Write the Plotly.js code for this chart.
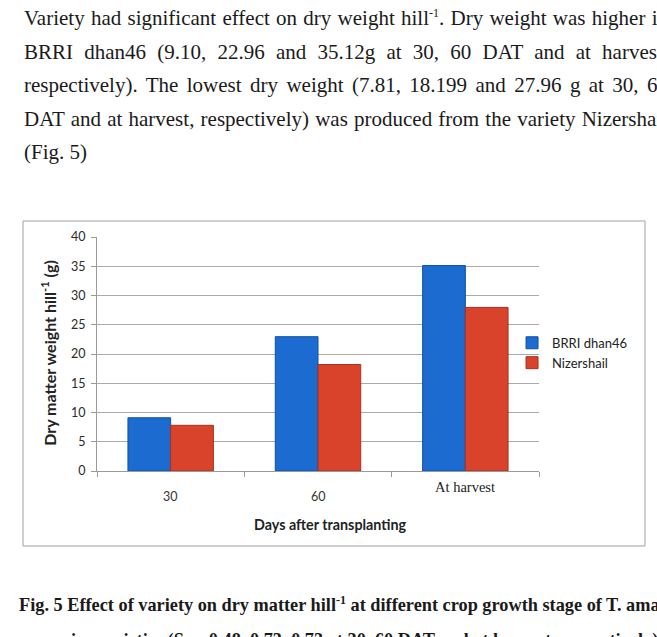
<!DOCTYPE html>
<html>
<head>
<meta charset="utf-8">
<script src="https://cdn.plot.ly/plotly-3.0.1.min.js"></script>
<style>
  html, body { margin:0; padding:0; width:657px; height:637px; overflow:hidden; background:#fff; }
  #chart { position:absolute; left:0; top:0; width:657px; height:637px; }
  .ln { position:absolute; left:24px; width:644px; white-space:nowrap; font-family:"Liberation Serif", "Times New Roman", serif;
        font-size:21px; line-height:33.5px; height:33.5px; color:#1a1a1a; text-align:justify; text-align-last:justify; }
  .ln.last { text-align:left; text-align-last:left; }
  .ln sup, .cap sup { font-size:12px; line-height:0; }
  .cap { position:absolute; white-space:nowrap; font-family:"Liberation Serif", "Times New Roman", serif;
         font-size:18.3px; font-weight:bold; color:#1a1a1a; line-height:22px; }
  .cap sub { font-size:11px; line-height:0; }
</style>
</head>
<body>
<div id="chart"></div>
<div class="ln" style="top:2px;">Variety had significant effect on dry weight hill<sup>-1</sup>. Dry weight was higher in</div>
<div class="ln" style="top:35.5px;">BRRI dhan46 (9.10, 22.96 and 35.12g at 30, 60 DAT and at harvest,</div>
<div class="ln" style="top:69px;">respectively). The lowest dry weight (7.81, 18.199 and 27.96 g at 30, 60</div>
<div class="ln" style="top:102.5px;">DAT and at harvest, respectively) was produced from the variety Nizershail</div>
<div class="ln last" style="top:136px;">(Fig. 5)</div>
<div class="cap" style="left:19px; top:594px;">Fig. 5 Effect of variety on dry matter hill<sup>-1</sup> at different crop growth stage of T. aman</div>
<div class="cap" style="left:63px; top:629px;">rice varieties (S<sub>x̄</sub> = 0.48, 0.73, 0.73 at 30, 60 DAT and at harvest, respectively)</div>
<script>
const categories = ["30", "60", "At harvest"];
const brriDhan46 = [9.10, 22.96, 35.12];
const nizershail = [7.81, 18.199, 27.96];
const seriesNames = ["BRRI dhan46", "Nizershail"];
const yTicks = [0, 5, 10, 15, 20, 25, 30, 35, 40];

const chartFont = "Lato, 'Open Sans', sans-serif";

const traces = [
  { type: "bar", name: seriesNames[0], x: categories, y: brriDhan46,
    marker: { color: "#1b6bd0", line: { color: "#12509f", width: 1 } } },
  { type: "bar", name: seriesNames[1], x: categories, y: nizershail,
    marker: { color: "#d9432b", line: { color: "#a5321e", width: 1 } } }
];

const catAnn = categories.map(function (c, i) {
  const serif = c === "At harvest";
  return {
    x: i, y: 0, xref: "x", yref: "y", showarrow: false, yanchor: "middle",
    yshift: serif ? -16 : -25, text: c,
    font: serif ? { family: "'Liberation Serif', serif", size: 14.5, color: "#222" }
                : { family: chartFont, size: 12.5, color: "#333" }
  };
});

const layout = {
  width: 657, height: 637,
  margin: { l: 97, r: 118, t: 237, b: 166 },
  paper_bgcolor: "rgba(0,0,0,0)", plot_bgcolor: "#fff",
  font: { family: chartFont, size: 12, color: "#333" },
  barmode: "group", bargap: 0.42, bargroupgap: 0,
  showlegend: true,
  legend: { x: 0.939, xanchor: "left", y: 0.505, yanchor: "middle", bgcolor: "rgba(0,0,0,0)",
            font: { family: chartFont, size: 13, color: "#222" }, tracegroupgap: 0, itemwidth: 30 },
  xaxis: { type: "category", range: [-0.5, 2.5], showticklabels: false, showgrid: false, showline: true, linecolor: "#9a9a9a",
           linewidth: 1, ticks: "outside", ticklen: 5, tickcolor: "#9a9a9a", tickson: "boundaries", zeroline: false },
  yaxis: { range: [0, 40], tickvals: yTicks, showgrid: true, gridcolor: "#ababab", gridwidth: 1,
           showline: true, linecolor: "#9a9a9a", linewidth: 1, ticks: "outside", ticklen: 5, tickcolor: "#9a9a9a",
           ticklabelstandoff: 3, zeroline: false, tickfont: { family: chartFont, size: 12.5, color: "#2a2a2a" } },
  annotations: catAnn.concat([
    { xref: "paper", yref: "paper", x: 0.529, y: -0.23, yanchor: "middle", showarrow: false,
      text: "<b>Days after transplanting</b>", font: { family: chartFont, size: 14.3, color: "#222" } },
    { xref: "paper", yref: "paper", x: -0.1086, y: 0.505, xanchor: "center", yanchor: "middle", showarrow: false,
      textangle: -90, text: "<b>Dry matter weight hill<sup>-1</sup> (g)</b>", font: { family: chartFont, size: 16, color: "#222" } }
  ]),
  shapes: [
    { type: "rect", xref: "paper", yref: "paper", x0: -0.1674, x1: 1.2398, y0: -0.3205, y1: 1.0684,
      line: { color: "#a0a0a0", width: 1 }, fillcolor: "rgba(0,0,0,0)", layer: "below" }
  ]
};

Plotly.newPlot("chart", traces, layout, { displayModeBar: false, staticPlot: true });
</script>
</body>
</html>
